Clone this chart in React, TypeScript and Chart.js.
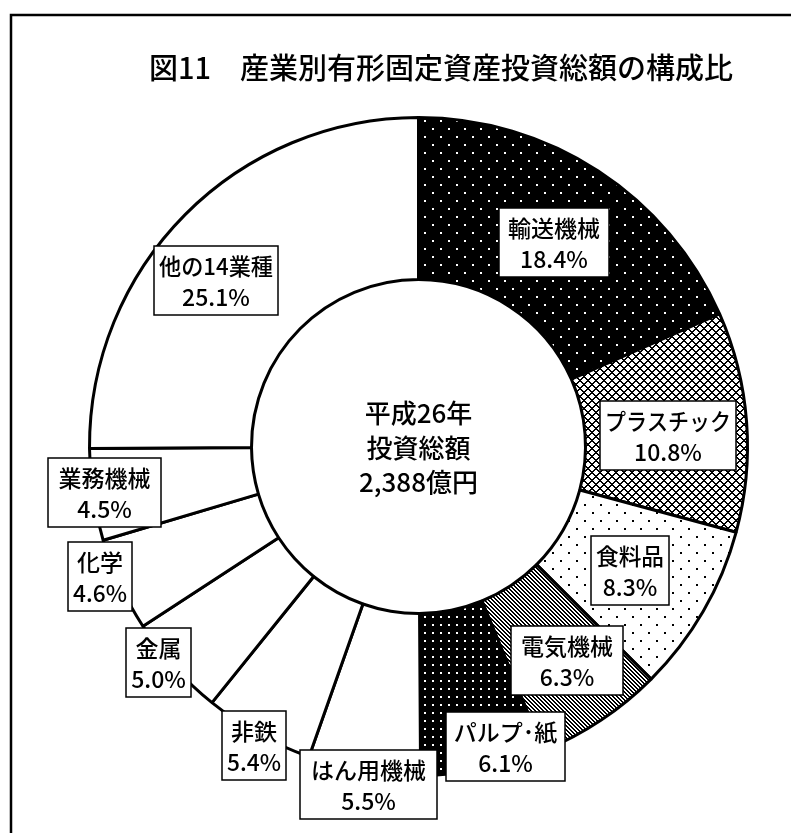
import React, { useEffect, useRef } from 'react';
import { Chart, registerables } from 'chart.js';

Chart.register(...registerables);

// ---- data ----
const TITLE = '図11　産業別有形固定資産投資総額の構成比';
const CENTER_LINES = ['平成26年', '投資総額', '2,388億円'];
const CATEGORIES = ['輸送機械', 'プラスチック', '食料品', '電気機械', 'パルプ･紙', 'はん用機械', '非鉄', '金属', '化学', '業務機械', '他の14業種'];
const SHARES = [18.4, 10.8, 8.3, 6.3, 6.1, 5.5, 5.4, 5.0, 4.6, 4.5, 25.1];

// ---- label placement / style (not data) ----
const LABEL_RADIUS = [245, 250, 245, 261, 312, 342, 341, 338, 344, 317, 262];
const LABEL_ANGLE_SHIFT = [0.4, 1.8, 0.3, -1.1, -4.8, -1.1, -0.4, 2.3, 2.6, 0.1, -5.4];
const LABEL_BOX_W = [110, 136, 78, 112, 119, 137, 64, 65, 64, 113, 124];
const LABEL_BOX_H = 69;
const FONT = '"Noto Sans CJK JP", "Noto Sans", sans-serif';

function tile(w: number, h: number, draw: (c: CanvasRenderingContext2D) => void): HTMLCanvasElement {
  const c = document.createElement('canvas');
  c.width = w;
  c.height = h;
  const x = c.getContext('2d')!;
  draw(x);
  return c;
}

function pixelTile(n: number, isBlack: (x: number, y: number) => boolean): HTMLCanvasElement {
  return tile(n, n, (c) => {
    const img = c.createImageData(n, n);
    for (let y = 0; y < n; y++) {
      for (let x = 0; x < n; x++) {
        const v = isBlack(x, y) ? 0 : 255;
        const i = (y * n + x) * 4;
        img.data[i] = v;
        img.data[i + 1] = v;
        img.data[i + 2] = v;
        img.data[i + 3] = 255;
      }
    }
    c.putImageData(img, 0, 0);
  });
}

function makeFills(ctx: CanvasRenderingContext2D): (string | CanvasPattern)[] {
  const sparseWhiteDots = pixelTile(16, (x, y) => !((x < 2 && y < 2) || (x >= 8 && x < 10 && y >= 8 && y < 10)));
  const lattice = pixelTile(8, (x, y) => {
    const a = (x - y + 16) % 8;
    const b = (x + y) % 8;
    return a === 0 || a === 7 || b === 0 || b === 7;
  });
  const sparseBlackDots = pixelTile(16, (x, y) => (x < 2 && y < 2) || (x >= 8 && x < 10 && y >= 8 && y < 10));
  const stripes = pixelTile(4, (x, y) => ((x - y + 8) % 4) < 2);
  const denseWhiteDots = pixelTile(8, (x, y) => !(x < 2 && y < 2));
  const p = (t: HTMLCanvasElement) => ctx.createPattern(t, 'repeat')!;
  return [
    p(sparseWhiteDots),
    p(lattice),
    p(sparseBlackDots),
    p(stripes),
    p(denseWhiteDots),
    '#fff', '#fff', '#fff', '#fff', '#fff', '#fff',
  ];
}

const decor = {
  id: 'decor',
  beforeDraw(chart: any) {
    const c: CanvasRenderingContext2D = chart.ctx;
    c.save();
    c.fillStyle = '#fff';
    c.fillRect(0, 0, chart.width, chart.height);
    // frame
    c.strokeStyle = '#000';
    c.lineWidth = 2.5;
    c.beginPath();
    c.moveTo(11, chart.height + 5);
    c.lineTo(11, 15);
    c.lineTo(chart.width + 5, 15);
    c.stroke();
    // title
    c.fillStyle = '#000';
    c.font = `500 29px ${FONT}`;
    c.textAlign = 'center';
    c.textBaseline = 'middle';
    c.fillText(TITLE, 441, 68);
    c.restore();
  },
  afterDatasetsDraw(chart: any) {
    const c: CanvasRenderingContext2D = chart.ctx;
    const meta = chart.getDatasetMeta(0);
    const arcs = meta.data;
    c.save();
    c.textAlign = 'center';
    c.textBaseline = 'middle';
    // center text
    const cx = arcs[0].x;
    const cy = arcs[0].y;
    c.fillStyle = '#000';
    c.font = `500 26px ${FONT}`;
    CENTER_LINES.forEach((t, i) => c.fillText(t, cx, cy - 33 + i * 34.5));
    // labels
    c.font = `500 23px ${FONT}`;
    arcs.forEach((a: any, i: number) => {
      const mid = (a.startAngle + a.endAngle) / 2 + (LABEL_ANGLE_SHIFT[i] * Math.PI) / 180;
      const lx = a.x + LABEL_RADIUS[i] * Math.cos(mid);
      const ly = a.y + LABEL_RADIUS[i] * Math.sin(mid);
      const w = LABEL_BOX_W[i];
      const h = LABEL_BOX_H;
      const x0 = Math.round(lx - w / 2);
      const y0 = Math.round(ly - h / 2);
      c.fillStyle = '#fff';
      c.fillRect(x0, y0, w, h);
      c.strokeStyle = '#000';
      c.lineWidth = 1.5;
      c.strokeRect(x0, y0, w, h);
      c.fillStyle = '#000';
      c.fillText(CATEGORIES[i], x0 + w / 2, y0 + 20, w - 10);
      c.fillText(`${SHARES[i].toFixed(1)}%`, x0 + w / 2, y0 + 51, w - 10);
    });
    c.restore();
  },
};

export default function App() {
  const ref = useRef<HTMLCanvasElement>(null);
  useEffect(() => {
    const canvas = ref.current!;
    const ctx = canvas.getContext('2d')!;
    const fills = makeFills(ctx);
    const chart = new Chart(canvas, {
      type: 'doughnut',
      data: {
        labels: CATEGORIES,
        datasets: [
          {
            data: SHARES,
            backgroundColor: fills as any,
            borderColor: '#000',
            borderWidth: 3,
            hoverBorderWidth: 3,
            hoverOffset: 0,
          },
        ],
      },
      options: {
        responsive: false,
        animation: false,
        devicePixelRatio: 1,
        cutout: '50.76%',
        events: [],
        layout: { padding: { left: 88, top: 116, right: 42, bottom: 56 } },
        plugins: {
          legend: { display: false },
          tooltip: { enabled: false },
          title: { display: false },
        },
      },
      plugins: [decor],
    });
    return () => chart.destroy();
  }, []);
  return (
    <div style={{ position: 'fixed', left: 0, top: 0, width: 791, height: 833, background: '#fff' }}>
      <canvas ref={ref} width={791} height={833} style={{ display: 'block' }} />
    </div>
  );
}
